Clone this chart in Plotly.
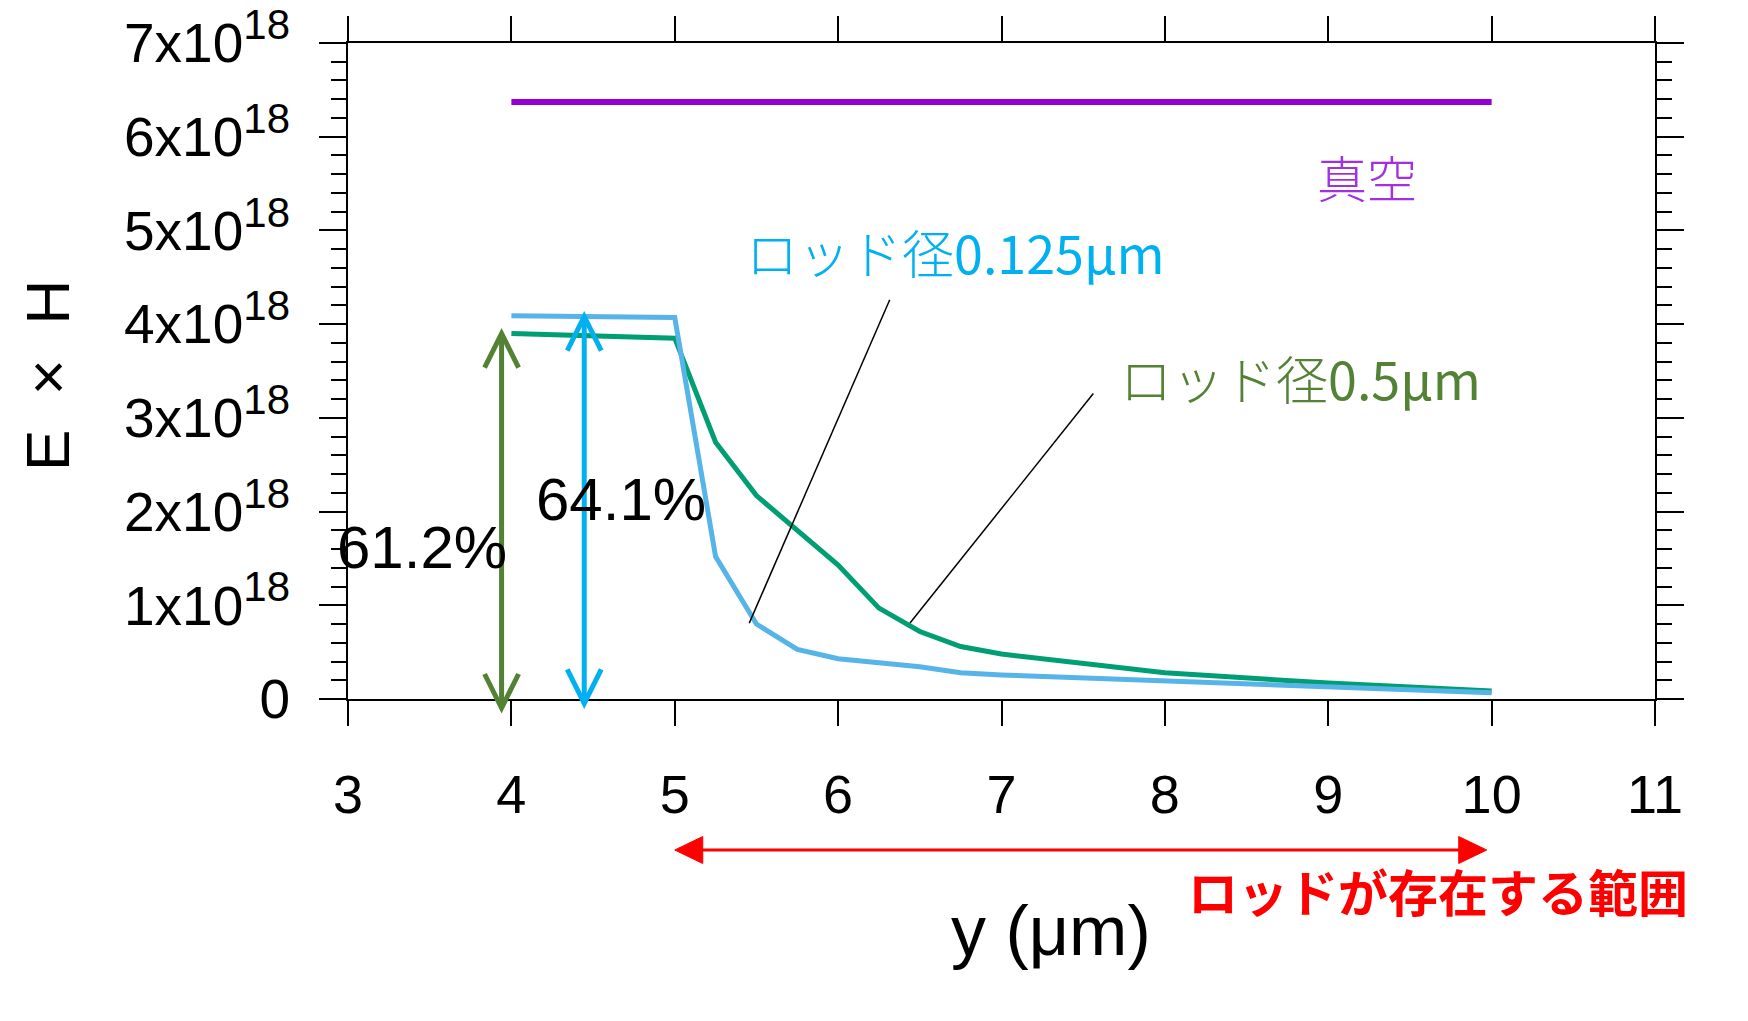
import plotly.graph_objects as go

# ---------------- data (values in units of 1e18) ----------------
SCALE = 1e18
x_vacuum = [4, 10]
y_vacuum = [6.37, 6.37]

x_rod0125 = [4, 5, 5.25, 5.5, 5.75, 6, 6.5, 6.75, 7, 8, 9, 10]
y_rod0125 = [4.09, 4.07, 1.52, 0.80, 0.53, 0.43, 0.345, 0.28, 0.256, 0.19, 0.13, 0.067]

x_rod05 = [4, 5, 5.25, 5.5, 6, 6.25, 6.5, 6.75, 7, 8, 9, 10]
y_rod05 = [3.90, 3.85, 2.74, 2.17, 1.43, 0.97, 0.72, 0.56, 0.48, 0.28, 0.17, 0.085]

x_tickvals = [3, 4, 5, 6, 7, 8, 9, 10, 11]
y_tickvals = [0, 1, 2, 3, 4, 5, 6, 7]
y_ticktext = ["0"] + [f"{v}x10<sup><span style='font-size:42px'>18</span></sup>" for v in y_tickvals[1:]]

X_RANGE = [3, 11]
Y_RANGE = [0, 7]

# annotation anchors (data units)
pct_green = dict(x=3.94, y_bot=-0.096, y_top=3.90, text="61.2%", tx=3.453, ty=1.62)
pct_blue = dict(x=4.446, y_bot=-0.046, y_top=4.08, text="64.1%", tx=4.67, ty=2.13)
leader_blue = [(6.316, 4.26), (5.456, 0.81)]
leader_green = [(7.562, 3.26), (6.44, 0.81)]
rod_range = [5.0, 9.97]

# colours
C_VAC = "#9400D3"
C_VAC_TXT = "#A030E0"
C_BLUE_LINE = "#56B4E9"
C_GREEN_LINE = "#009E73"
C_BLUE = "#00B0F0"
C_GREEN = "#548235"
C_RED = "#FF0000"

OFF = 8  # page offset of the figure (body margin)
W, H = 1748, 1021
PW, PH = 1307, 656
ML, MT = 348 - OFF, 43 - OFF
MR, MB = W - ML - PW, H - MT - PH


def px(x):
    return (x - X_RANGE[0]) / (X_RANGE[1] - X_RANGE[0])


def py(y):
    return (y - Y_RANGE[0]) / (Y_RANGE[1] - Y_RANGE[0])


def pix_y(pix):
    """paper y for a pixel row of the page"""
    return (MT + PH - (pix - OFF)) / PH


def pix_x(pix):
    """paper x for a pixel column of the page"""
    return (pix - OFF - ML) / PW


fig = go.Figure()
fig.add_trace(go.Scatter(x=x_vacuum, y=[v * SCALE for v in y_vacuum], mode="lines",
                         line=dict(color=C_VAC, width=6), showlegend=False))
fig.add_trace(go.Scatter(x=x_rod05, y=[v * SCALE for v in y_rod05], mode="lines",
                         line=dict(color=C_GREEN_LINE, width=5), showlegend=False))
fig.add_trace(go.Scatter(x=x_rod0125, y=[v * SCALE for v in y_rod0125], mode="lines",
                         line=dict(color=C_BLUE_LINE, width=5), showlegend=False))

shapes = []
# leader lines
for (a, b) in (leader_blue, leader_green):
    shapes.append(dict(type="line", xref="x", yref="y", x0=a[0], y0=a[1] * SCALE,
                       x1=b[0], y1=b[1] * SCALE, line=dict(color="black", width=1.5)))

# double-headed chevron arrows
CHEV_DX = 17 / PW
CHEV_DY = 34 / PH
for spec, col in ((pct_green, C_GREEN), (pct_blue, C_BLUE)):
    xp = px(spec["x"])
    yb, yt = py(spec["y_bot"]), py(spec["y_top"])
    shapes.append(dict(type="line", xref="paper", yref="paper", x0=xp, y0=yb, x1=xp, y1=yt,
                       line=dict(color=col, width=5)))
    shapes.append(dict(type="path", xref="paper", yref="paper",
                       path=f"M {xp - CHEV_DX},{yt - CHEV_DY} L {xp},{yt} L {xp + CHEV_DX},{yt - CHEV_DY}",
                       line=dict(color=col, width=5)))
    shapes.append(dict(type="path", xref="paper", yref="paper",
                       path=f"M {xp - CHEV_DX},{yb + CHEV_DY} L {xp},{yb} L {xp + CHEV_DX},{yb + CHEV_DY}",
                       line=dict(color=col, width=5)))

# red range arrow below axis
RY = pix_y(850)
HL = 28 / PW
HW = 13.5 / PH
xl, xr = px(rod_range[0]), px(rod_range[1])
shapes.append(dict(type="line", xref="paper", yref="paper", x0=xl + HL * 0.8, y0=RY, x1=xr - HL * 0.8, y1=RY,
                   line=dict(color=C_RED, width=3)))
shapes.append(dict(type="path", xref="paper", yref="paper",
                   path=f"M {xl},{RY} L {xl + HL},{RY + HW} L {xl + HL},{RY - HW} Z",
                   fillcolor=C_RED, line=dict(color=C_RED, width=1)))
shapes.append(dict(type="path", xref="paper", yref="paper",
                   path=f"M {xr},{RY} L {xr - HL},{RY + HW} L {xr - HL},{RY - HW} Z",
                   fillcolor=C_RED, line=dict(color=C_RED, width=1)))

JP = "Noto Sans CJK JP"
LAT = "Liberation Sans, Arial, sans-serif"


def ann(x, y, text, font, xref="x", yref="y", **kw):
    return dict(x=x, y=y, xref=xref, yref=yref, text=text, showarrow=False,
                xanchor="center", yanchor="middle", font=font, **kw)


REG = "<span style='font-weight:400'>{}</span>"
annotations = [
    ann(9.24, 5.58 * SCALE, "真空", dict(family=JP, size=50, color=C_VAC_TXT, weight=300)),
    ann(6.72, 4.77 * SCALE, "ロッド径" + REG.format("0.125μm"), dict(family=JP, size=52, color=C_BLUE, weight=300)),
    ann(8.83, 3.43 * SCALE, "ロッド径" + REG.format("0.5μm"), dict(family=JP, size=52, color=C_GREEN, weight=300)),
    ann(pct_green["tx"], pct_green["ty"] * SCALE, pct_green["text"], dict(family=LAT, size=60, color="black")),
    ann(pct_blue["tx"], pct_blue["ty"] * SCALE, pct_blue["text"], dict(family=LAT, size=60, color="black")),
    ann(7.30, pix_y(931), "y (μm)", dict(family=LAT, size=70, color="black"), yref="paper"),
    ann(9.67, pix_y(890), "<b>ロッドが存在する範囲</b>", dict(family=JP, size=50, color=C_RED), yref="paper"),
    ann(pix_x(48), pix_y(376), "E\u00a0\u00a0×\u00a0\u00a0H", dict(family=LAT, size=62, color="black"),
        xref="paper", yref="paper", textangle=-90),
]

fig.update_layout(
    width=W, height=H,
    margin=dict(l=ML, r=MR, t=MT, b=MB, pad=0, autoexpand=False),
    paper_bgcolor="white", plot_bgcolor="white",
    shapes=shapes, annotations=annotations,
    xaxis=dict(range=X_RANGE, tickvals=x_tickvals, ticks="outside", ticklen=25, tickwidth=2,
               tickcolor="black", showline=True, linewidth=2, linecolor="black", mirror="ticks",
               showgrid=False, zeroline=False, ticklabelstandoff=22, automargin=False,
               ticklabeloverflow="allow",
               tickfont=dict(family=LAT, size=54, color="black")),
    yaxis=dict(range=[Y_RANGE[0] * SCALE, Y_RANGE[1] * SCALE], tickvals=[v * SCALE for v in y_tickvals],
               ticktext=y_ticktext, ticks="outside", ticklen=27, tickwidth=2, tickcolor="black",
               showline=True, linewidth=2, linecolor="black", mirror="ticks",
               showgrid=False, zeroline=False, ticklabelstandoff=18, automargin=False,
               ticklabeloverflow="allow",
               minor=dict(dtick=0.2 * SCALE, ticks="outside", ticklen=15, tickwidth=2, tickcolor="black",
                          showgrid=False),
               tickfont=dict(family=LAT, size=55, color="black")),
)

fig.write_html("out.html")
